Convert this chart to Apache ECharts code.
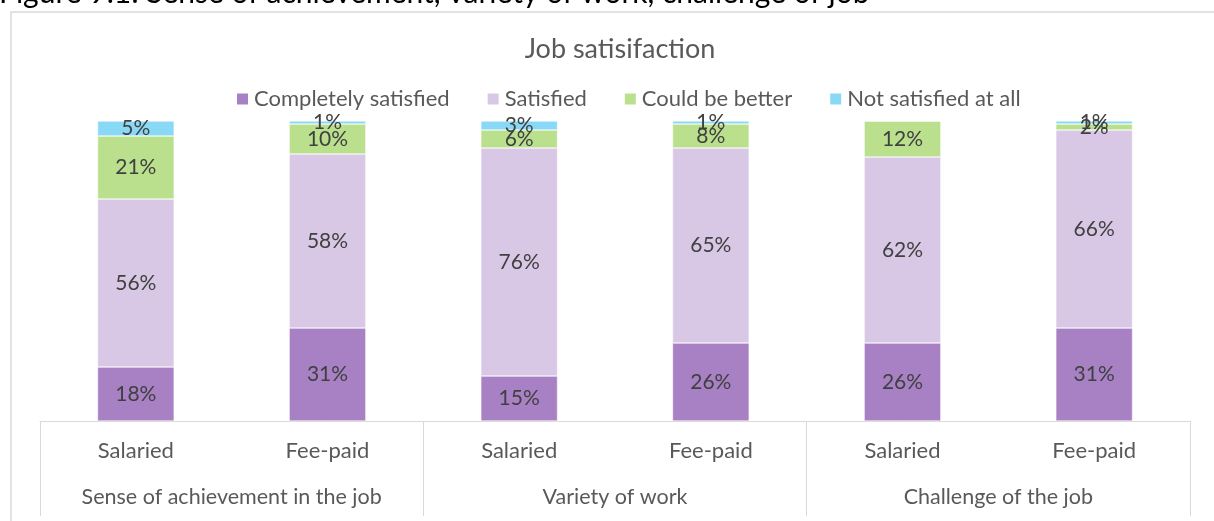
<!DOCTYPE html>
<html>
<head>
<meta charset="utf-8">
<script src="https://cdn.jsdelivr.net/npm/echarts@6/dist/echarts.min.js"></script>
<style>
  html, body { margin: 0; padding: 0; background: #fff; }
  #chart { width: 1214px; height: 521px; }
</style>
</head>
<body>
<div id="chart"></div>
<script>
// data (percent)
var groups = ['Sense of achievement in the job', 'Variety of work', 'Challenge of the job'];
var subCats = ['Salaried', 'Fee-paid', 'Salaried', 'Fee-paid', 'Salaried', 'Fee-paid'];
var completelySatisfied = [18, 31, 15, 26, 26, 31];
var satisfied = [56, 58, 76, 65, 62, 66];
var couldBeBetter = [21, 10, 6, 8, 12, 2];
var notSatisfied = [5, 1, 3, 1, 0, 1];

var seriesNames = ['Completely satisfied', 'Satisfied', 'Could be better', 'Not satisfied at all'];
var seriesData = [completelySatisfied, satisfied, couldBeBetter, notSatisfied];
var colors = ['#a880c4', '#d8c8e5', '#bae08e', '#89d9f6'];

var font = 'Lato, "Open Sans", sans-serif';

var chart = echarts.init(document.getElementById('chart'));

var series = seriesNames.map(function (name, i) {
    return {
        name: name,
        type: 'bar',
        stack: 'total',
        barWidth: '40%',
        xAxisIndex: 0,
        itemStyle: {color: colors[i], borderColor: '#fff', borderWidth: 0.5},
        label: {
            show: true,
            position: 'inside',
            color: '#404040',
            fontSize: 21,
            fontFamily: font,
            formatter: function (p) {
                return p.value ? p.value + '%' : '';
            }
        },
        data: seriesData[i]
    };
});

var option = {
    backgroundColor: '#fff',
    color: colors,
    title: {
        text: 'Job satisifaction',
        left: 615,
        textAlign: 'center',
        top: 31,
        textStyle: {color: '#595959', fontSize: 27, fontWeight: 'normal', fontFamily: font}
    },
    legend: {
        top: 83,
        left: 230,
        itemWidth: 13,
        itemHeight: 13,
        itemGap: 36,
        icon: 'rect',
        textStyle: {color: '#595959', fontSize: 22, fontFamily: font},
        data: seriesNames
    },
    grid: {
        left: 40,
        right: 24,
        top: 121,
        bottom: 100
    },
    xAxis: [
        {
            type: 'category',
            data: subCats,
            axisLine: {lineStyle: {color: '#d9d9d9', width: 1}},
            axisTick: {show: false},
            axisLabel: {color: '#595959', fontSize: 22, fontFamily: font, margin: 19, interval: 0}
        },
        {
            type: 'category',
            data: groups,
            position: 'bottom',
            axisLine: {show: false},
            axisTick: {show: true, interval: 0, length: 95, lineStyle: {color: '#d9d9d9'}},
            axisLabel: {color: '#595959', fontSize: 21.5, fontFamily: font, margin: 65, interval: 0}
        }
    ],
    yAxis: {
        type: 'value',
        min: 0,
        max: 100,
        show: false
    },
    graphic: [
        {
            type: 'rect',
            shape: {x: 11, y: 12, width: 1220, height: 530},
            style: {fill: 'none', stroke: '#d9d9d9', lineWidth: 1.5},
            silent: true
        },
        {
            type: 'text',
            left: -1,
            top: -22,
            style: {
                text: 'Figure 9.1: Sense of achievement, variety of work, challenge of job',
                fill: '#000',
                fontSize: 30,
                fontFamily: font
            }
        }
    ],
    series: series
};

chart.setOption(option);
</script>
</body>
</html>
